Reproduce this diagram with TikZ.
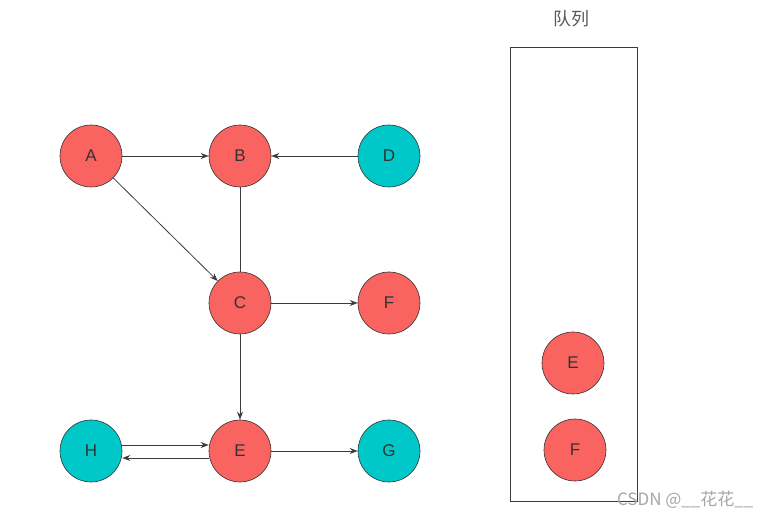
\documentclass[tikz,border=0pt]{standalone}
\usepackage{fontspec}
\setmainfont{Liberation Sans}
\newfontfamily\cjk{Noto Sans CJK SC}
\usetikzlibrary{arrows.meta}
\definecolor{nodered}{RGB}{250,100,96}
\definecolor{nodecyan}{RGB}{0,200,200}
\definecolor{edgegray}{RGB}{60,60,60}
\tikzset{
  vtx/.style={circle, draw=edgegray!80!black, line width=0.6pt, minimum size=62pt, inner sep=0pt, font=\fontsize{17}{17}\selectfont, text=black!80},
  redv/.style={vtx, fill=nodered},
  cyanv/.style={vtx, fill=nodecyan},
  arc/.style={draw=edgegray, line width=0.8pt, -{Stealth[length=8pt,width=6pt]}},
  link/.style={draw=edgegray, line width=0.8pt}
}
\begin{document}
\begin{tikzpicture}[x=1pt,y=-1pt]
\useasboundingbox (0,0) rectangle (769,521);
\node[redv] (nA) at (91,156){A};
\node[redv] (nB) at (240,156){B};
\node[cyanv] (nD) at (389,156){D};
\node[redv] (nC) at (240,303){C};
\node[redv] (nF) at (389,303){F};
\node[cyanv] (nH) at (91,451){H};
\node[redv] (nE) at (240,451){E};
\node[cyanv] (nG) at (389,451){G};
\draw[arc](nA) -- (nB);
\draw[arc](nD) -- (nB);
\draw[arc](nA) -- (nC);
\draw[link](nB) -- (nC);
\draw[arc](nC) -- (nF);
\draw[arc](nC) -- (nE);
\draw[arc]([yshift=6pt]nH.east) -- ([yshift=6pt]nE.west);
\draw[arc]([yshift=-7pt]nE.west) -- ([yshift=-7pt]nH.east);
\draw[arc](nE) -- (nG);
% queue
\node[draw=edgegray, line width=0.8pt, minimum width=127pt, minimum height=454pt, inner sep=0pt] (queue) at (573.5,274){};
\node[font=\cjk\fontsize{18}{18}\selectfont, text=black!65] (qlabel) at (571,19){队列};
\node[redv] (qE) at (573,363){E};
\node[redv] (qF) at (575,450){F};
\node[font=\fontsize{17}{17}\selectfont\cjk, text=black!35, anchor=east] (mark) at (757,500){CSDN @\_\_花花\_\_};
\end{tikzpicture}
\end{document}
